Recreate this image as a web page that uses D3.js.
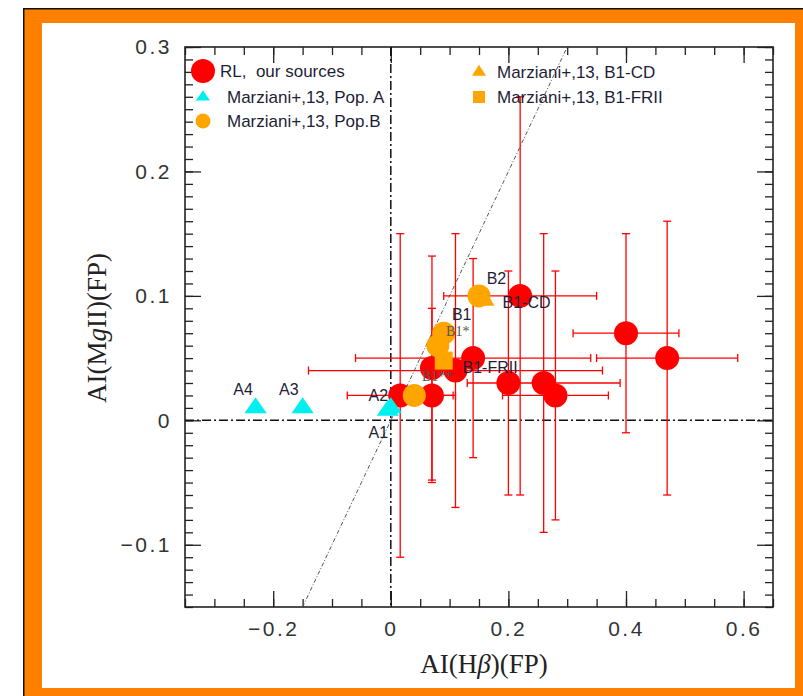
<!DOCTYPE html>
<html>
<head>
<meta charset="utf-8">
<script src="https://cdn.jsdelivr.net/npm/d3@7/dist/d3.min.js"></script>
<style>
  html, body { margin: 0; padding: 0; background: #fff; }
  svg { display: block; }
</style>
</head>
<body>
<svg id="chart" width="803" height="696"></svg>
<script>
// ---------------- DATA ----------------
// RL, our sources (red circles with error bars)
const rlX    = [0.016, 0.07, 0.07, 0.11, 0.14, 0.22, 0.20, 0.26, 0.28, 0.40, 0.47];
const rlY    = [0.02, 0.02, 0.042, 0.04, 0.05, 0.10, 0.03, 0.03, 0.02, 0.07, 0.05];
const rlXErr = [0.09, 0.04, 0.0, 0.25, 0.20, 0.13, 0.0, 0.13, 0.09, 0.09, 0.12];
const rlYErr = [0.13, 0.07, 0.09, 0.11, 0.08, 0.16, 0.09, 0.12, 0.10, 0.08, 0.11];

// Marziani+13, Pop. A (cyan triangles)
const popAX = [-0.23, -0.15, 0.0, -0.005];
const popAY = [0.01, 0.01, 0.01, 0.008];
const popALabels = ["A4", "A3", "A2", "A1"];

// Marziani+13, Pop. B (orange circles)
const popBX = [0.04, 0.15, 0.09, 0.08];
const popBY = [0.02, 0.10, 0.07, 0.06];

// Marziani+13, B1-CD (orange triangle) and B1-FRII (orange square)
const b1cdX = [0.158]; const b1cdY = [0.097];
const b1friiX = [0.09]; const b1friiY = [0.048];

// tick values
const xMajorTicks = [-0.2, 0, 0.2, 0.4, 0.6];
const yMajorTicks = [-0.1, 0, 0.1, 0.2, 0.3];
const xTickLabels = ["\u22120.2", "0", "0.2", "0.4", "0.6"];
const yTickLabels = ["\u22120.1", "0", "0.1", "0.2", "0.3"];

// text annotations near points (data coordinates of label anchor)
const annText = ["B2", "B1-CD", "B1", "B1*", "B1**", "B1-FRII", "A4", "A3", "A2", "A1"];
const annX    = [0.163, 0.19, 0.104, 0.094, 0.053, 0.122, -0.268, -0.19, -0.038, -0.038];
const annY    = [0.1095, 0.0905, 0.081, 0.068, 0.0315, 0.038, 0.020, 0.020, 0.0155, -0.0145];

const legendLeft  = ["RL,  our sources", "Marziani+,13, Pop. A", "Marziani+,13, Pop.B"];
const legendRight = ["Marziani+,13, B1-CD", "Marziani+,13, B1-FRII"];

// ---------------- LAYOUT ----------------
const svg = d3.select("#chart");
const W = 803, H = 696;
const L = 185, R = 773, T = 47, B = 607;

const x = d3.scaleLinear().domain([-0.35, 0.65]).range([L, R]);
const y = d3.scaleLinear().domain([-0.15, 0.3]).range([B, T]);

const RED = "#ff0000", ORANGE = "#ffa500", CYAN = "#00f0f0", BORDER = "#ff8000";
const TXT = "#1e1e38";

// outer frame (orange border)
svg.append("rect").attr("x", 0).attr("y", 0).attr("width", W).attr("height", H).attr("fill", "#fff");
svg.append("rect").attr("x", 23).attr("y", 8).attr("width", W - 23).attr("height", H - 8).attr("fill", "#111");
svg.append("rect").attr("x", 24.5).attr("y", 9.5).attr("width", W - 24.5).attr("height", H - 9.5).attr("fill", BORDER);
svg.append("rect").attr("x", 42).attr("y", 23).attr("width", 753).attr("height", 665).attr("fill", "#fff");

const plot = svg.append("g");

// ---------------- AXES (inward ticks on all four sides) ----------------
const xMinor = d3.range(-0.35, 0.651, 0.05).map(v => +v.toFixed(3));
const yMinor = d3.range(-0.15, 0.301, 0.01).map(v => +v.toFixed(3));

function styleAxis(g) {
  g.select(".domain").remove();
  g.selectAll("line").attr("stroke", "#222").attr("stroke-width", 1.3);
}

// minor ticks
plot.append("g").attr("transform", `translate(0,${B})`)
  .call(d3.axisBottom(x).tickValues(xMinor).tickSize(-8).tickFormat(""))
  .call(styleAxis);
plot.append("g").attr("transform", `translate(0,${T})`)
  .call(d3.axisTop(x).tickValues(xMinor).tickSize(-8).tickFormat(""))
  .call(styleAxis);
plot.append("g").attr("transform", `translate(${L},0)`)
  .call(d3.axisLeft(y).tickValues(yMinor).tickSize(-8).tickFormat(""))
  .call(styleAxis);
plot.append("g").attr("transform", `translate(${R},0)`)
  .call(d3.axisRight(y).tickValues(yMinor).tickSize(-8).tickFormat(""))
  .call(styleAxis);

// major ticks
const xAxisB = plot.append("g").attr("transform", `translate(0,${B})`)
  .call(d3.axisBottom(x).tickValues(xMajorTicks).tickSize(-16).tickPadding(14)
        .tickFormat((d, i) => xTickLabels[i]))
  .call(styleAxis);
plot.append("g").attr("transform", `translate(0,${T})`)
  .call(d3.axisTop(x).tickValues(xMajorTicks).tickSize(-16).tickFormat(""))
  .call(styleAxis);
const yAxisL = plot.append("g").attr("transform", `translate(${L},0)`)
  .call(d3.axisLeft(y).tickValues(yMajorTicks).tickSize(-16).tickPadding(13)
        .tickFormat((d, i) => yTickLabels[i]))
  .call(styleAxis);
plot.append("g").attr("transform", `translate(${R},0)`)
  .call(d3.axisRight(y).tickValues(yMajorTicks).tickSize(-16).tickFormat(""))
  .call(styleAxis);

[xAxisB, yAxisL].forEach(g => g.selectAll("text")
  .attr("font-family", "'Liberation Sans', Arial, sans-serif")
  .attr("font-size", 21).attr("fill", "#333").style("letter-spacing", "2.5px"));

// frame
plot.append("rect").attr("x", L).attr("y", T).attr("width", R - L).attr("height", B - T)
  .attr("fill", "none").attr("stroke", "#222").attr("stroke-width", 1.6);

// ---------------- REFERENCE LINES ----------------
plot.append("line").attr("x1", x(0)).attr("x2", x(0)).attr("y1", T).attr("y2", B)
  .attr("stroke", "#111").attr("stroke-width", 1.5).attr("stroke-dasharray", "9,3,2,3");
plot.append("line").attr("x1", L).attr("x2", R).attr("y1", y(0)).attr("y2", y(0))
  .attr("stroke", "#111").attr("stroke-width", 1.5).attr("stroke-dasharray", "9,3,2,3");
plot.append("line").attr("x1", x(-0.15)).attr("y1", y(-0.15)).attr("x2", x(0.3)).attr("y2", y(0.3))
  .attr("stroke", "#555").attr("stroke-width", 1).attr("stroke-dasharray", "4,2,1,2");

// ---------------- ERROR BARS ----------------
const rl = rlX.map((v, i) => ({ x: v, y: rlY[i], ex: rlXErr[i], ey: rlYErr[i] }));
const eb = plot.append("g").attr("stroke", RED).attr("stroke-width", 1.3);
const cap = 4;
rl.forEach(d => {
  if (d.ey > 0) {
    eb.append("line").attr("x1", x(d.x)).attr("x2", x(d.x)).attr("y1", y(d.y - d.ey)).attr("y2", y(d.y + d.ey));
    [d.y - d.ey, d.y + d.ey].forEach(v =>
      eb.append("line").attr("x1", x(d.x) - cap).attr("x2", x(d.x) + cap).attr("y1", y(v)).attr("y2", y(v)));
  }
  if (d.ex > 0) {
    eb.append("line").attr("y1", y(d.y)).attr("y2", y(d.y)).attr("x1", x(d.x - d.ex)).attr("x2", x(d.x + d.ex));
    [d.x - d.ex, d.x + d.ex].forEach(v =>
      eb.append("line").attr("y1", y(d.y) - cap).attr("y2", y(d.y) + cap).attr("x1", x(v)).attr("x2", x(v)));
  }
});

// ---------------- MARKERS ----------------
plot.append("g").selectAll("circle").data(rl).join("circle")
  .attr("cx", d => x(d.x)).attr("cy", d => y(d.y)).attr("r", 12).attr("fill", RED);

const tri = d3.symbol().type(d3.symbolTriangle);
plot.append("g").selectAll("path").data(b1cdX.map((v, i) => ({ x: v, y: b1cdY[i] }))).join("path")
  .attr("d", tri.size(200)).attr("fill", ORANGE)
  .attr("transform", d => `translate(${x(d.x)},${y(d.y)})`);

plot.append("g").selectAll("circle").data(popBX.map((v, i) => ({ x: v, y: popBY[i] }))).join("circle")
  .attr("cx", d => x(d.x)).attr("cy", d => y(d.y)).attr("r", 11.5).attr("fill", ORANGE);

plot.append("g").selectAll("rect").data(b1friiX.map((v, i) => ({ x: v, y: b1friiY[i] }))).join("rect")
  .attr("x", d => x(d.x) - 9).attr("y", d => y(d.y) - 9).attr("width", 18).attr("height", 18).attr("fill", ORANGE);

plot.append("g").selectAll("path").data(popAX.map((v, i) => ({ x: v, y: popAY[i] }))).join("path")
  .attr("d", d3.symbol().type(d3.symbolTriangle).size(150)).attr("fill", CYAN)
  .attr("transform", d => `translate(${x(d.x)},${y(d.y)}) scale(1.2,1)`);

// ---------------- ANNOTATIONS ----------------
const ann = plot.append("g");
annText.forEach((t, i) => {
  const serif = (t === "B1*" || t === "B1**");
  ann.append("text").attr("x", x(annX[i])).attr("y", y(annY[i]))
    .attr("font-family", serif ? "'Liberation Serif', 'DejaVu Serif', serif" : "'Liberation Sans', Arial, sans-serif")
    .attr("font-size", serif ? 14 : 16)
    .attr("fill", serif ? "#555" : TXT)
    .text(t);
});

// ---------------- LEGEND ----------------
const lg = plot.append("g").attr("font-family", "'Liberation Sans', Arial, sans-serif")
  .attr("font-size", 17).attr("fill", TXT);
lg.append("circle").attr("cx", 203).attr("cy", 71).attr("r", 12).attr("fill", RED);
lg.append("path").attr("d", d3.symbol().type(d3.symbolTriangle).size(60)).attr("fill", CYAN)
  .attr("transform", "translate(203,97) scale(1.2,1)");
lg.append("circle").attr("cx", 203).attr("cy", 121).attr("r", 7.5).attr("fill", ORANGE);
[[220, 77], [227, 103], [227, 127]].forEach((p, i) =>
  lg.append("text").attr("x", p[0]).attr("y", p[1]).style("white-space", "pre").text(legendLeft[i]));

lg.append("path").attr("d", d3.symbol().type(d3.symbolTriangle).size(70)).attr("fill", ORANGE)
  .attr("transform", "translate(479,72) scale(1.1,1)");
lg.append("rect").attr("x", 473).attr("y", 91).attr("width", 12).attr("height", 12).attr("fill", ORANGE);
[[497, 78], [497, 103]].forEach((p, i) =>
  lg.append("text").attr("x", p[0]).attr("y", p[1]).text(legendRight[i]));

// ---------------- AXIS TITLES ----------------
const serifFont = "'Liberation Serif', 'DejaVu Serif', serif";
const xt = svg.append("text").attr("x", 484).attr("y", 673).attr("text-anchor", "middle")
  .attr("font-family", serifFont).attr("font-size", 27).attr("fill", "#222");
xt.append("tspan").text("AI(H");
xt.append("tspan").attr("font-style", "italic").text("\u03b2");
xt.append("tspan").text(")(FP)");

const yt = svg.append("text").attr("transform", "translate(106,328) rotate(-90)").attr("text-anchor", "middle")
  .attr("font-family", serifFont).attr("font-size", 27).attr("fill", "#222");
yt.append("tspan").text("AI(M");
yt.append("tspan").attr("font-style", "italic").text("g");
yt.append("tspan").text("II)(FP)");
</script>
</body>
</html>
